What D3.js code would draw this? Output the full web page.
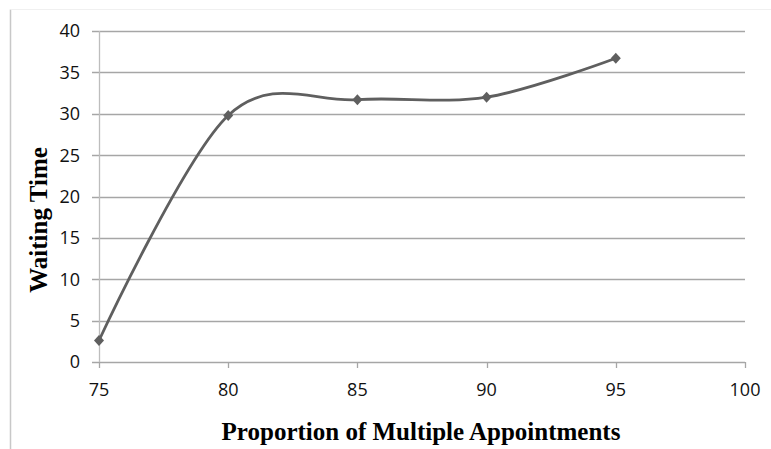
<!DOCTYPE html>
<html>
<head>
<meta charset="utf-8">
<script src="https://cdn.jsdelivr.net/npm/d3@7"></script>
<style>
body { margin: 0; background: #fff; }
svg { display: block; }
</style>
</head>
<body>
<script>
// data
var proportion = [75, 80, 85, 90, 95];
var waitingTime = [2.6, 29.8, 31.7, 32.0, 36.7];
var xTicks = [75, 80, 85, 90, 95, 100];
var yTicks = [0, 5, 10, 15, 20, 25, 30, 35, 40];

var width = 771, height = 449;
var margin = {top: 31, right: 26, bottom: 87, left: 99};

var svg = d3.select("body").append("svg")
    .attr("width", width)
    .attr("height", height);

// outer frame (left and top edge only visible)
svg.append("line")
    .attr("x1", 10.5).attr("x2", 10.5)
    .attr("y1", 9.5).attr("y2", height)
    .attr("stroke", "#c8c8c8").attr("stroke-width", 1.5);
svg.append("line")
    .attr("x1", 10.5).attr("x2", width)
    .attr("y1", 9.5).attr("y2", 9.5)
    .attr("stroke", "#f0f0f0").attr("stroke-width", 1);

var x = d3.scaleLinear()
    .domain([75, 100])
    .range([margin.left, width - margin.right]);

var y = d3.scaleLinear()
    .domain([0, 40])
    .range([height - margin.bottom, margin.top]);

//Gridlines
svg.append("g")
    .selectAll("line")
    .data(yTicks)
    .enter()
    .append("line")
        .attr("x1", x(75) - 7)
        .attr("x2", x(100))
        .attr("y1", function(d){ return Math.round(y(d)) + 0.5; })
        .attr("y2", function(d){ return Math.round(y(d)) + 0.5; })
        .attr("stroke", "#a6a6a6")
        .attr("stroke-width", 1.3);

//y axis line
svg.append("line")
    .attr("x1", x(75) + 0.5).attr("x2", x(75) + 0.5)
    .attr("y1", y(40)).attr("y2", y(0))
    .attr("stroke", "#bdbdbd").attr("stroke-width", 1.3);

//x tick marks
svg.append("g")
    .selectAll("line")
    .data(xTicks)
    .enter()
    .append("line")
        .attr("x1", function(d){ return Math.round(x(d)) + 0.5; })
        .attr("x2", function(d){ return Math.round(x(d)) + 0.5; })
        .attr("y1", y(0))
        .attr("y2", y(0) + 6)
        .attr("stroke", "#a6a6a6")
        .attr("stroke-width", 1.3);

//tick labels
svg.append("g")
    .selectAll("text")
    .data(yTicks)
    .enter()
    .append("text")
        .attr("x", 80)
        .attr("y", function(d){ return y(d); })
        .attr("dy", "0.36em")
        .attr("text-anchor", "end")
        .attr("font-family", "'Open Sans', sans-serif")
        .attr("font-size", 18)
        .attr("fill", "#111")
        .text(function(d){ return d; });

svg.append("g")
    .selectAll("text")
    .data(xTicks)
    .enter()
    .append("text")
        .attr("x", function(d){ return x(d); })
        .attr("y", 396)
        .attr("text-anchor", "middle")
        .attr("font-family", "'Open Sans', sans-serif")
        .attr("font-size", 18)
        .attr("fill", "#111")
        .text(function(d){ return d; });

//axis titles
svg.append("text")
    .attr("x", 421)
    .attr("y", 440)
    .attr("text-anchor", "middle")
    .attr("font-family", "'Liberation Serif', 'Times New Roman', serif")
    .attr("font-weight", "bold")
    .attr("font-size", 25)
    .attr("fill", "#000")
    .text("Proportion of Multiple Appointments");

svg.append("text")
    .attr("transform", "translate(47," + 220 + ") rotate(-90)")
    .attr("text-anchor", "middle")
    .attr("font-family", "'Liberation Serif', 'Times New Roman', serif")
    .attr("font-weight", "bold")
    .attr("font-size", 25)
    .attr("fill", "#000")
    .text("Waiting Time");

//smoothed line
var points = proportion.map(function(p, i){ return [p, waitingTime[i]]; });
var line = d3.line()
    .x(function(d){ return x(d[0]); })
    .y(function(d){ return y(d[1]); })
    .curve(d3.curveCardinal.tension(0));

svg.append("path")
    .datum(points)
    .attr("d", line)
    .attr("fill", "none")
    .attr("stroke", "#5f5f5f")
    .attr("stroke-width", 2.8);

//diamond markers
svg.append("g")
    .selectAll("path")
    .data(points)
    .enter()
    .append("path")
        .attr("transform", function(d){ return "translate(" + x(d[0]) + "," + y(d[1]) + ")"; })
        .attr("d", "M0,-5.5L5,0L0,5.5L-5,0Z")
        .attr("fill", "#5f5f5f");
</script>
</body>
</html>
